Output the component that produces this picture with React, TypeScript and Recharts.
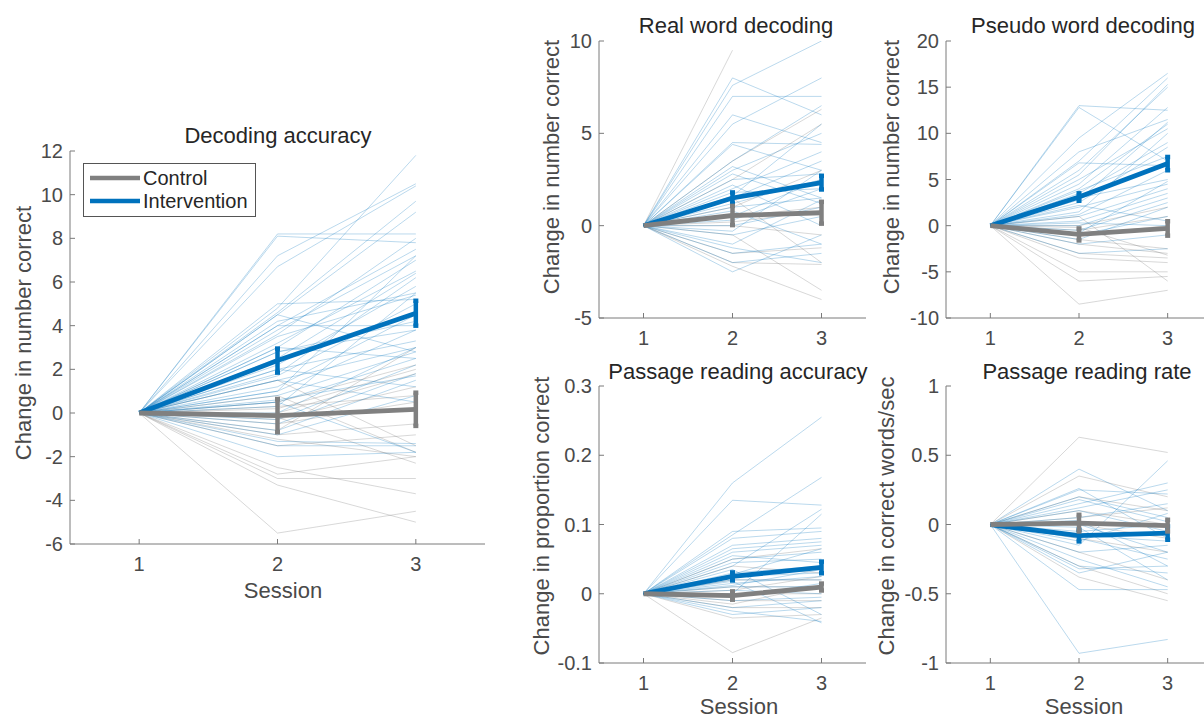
import React from "react";
import { LineChart, Line, XAxis, YAxis, ErrorBar } from "recharts";

type Pair = [number, number | null];

const SESSIONS = [1, 2, 3];
const X_TICKS = [1, 2, 3];

const BLUE = "#0072BD";
const GRAY = "#808080";
const AXIS = "#7a7a7a";
const TEXT = "#4a4a4a";
const FONT = "'Liberation Sans', Arial, Helvetica, sans-serif";

// change from session 1, values at session 2 and 3 (session 1 is always 0)
const decodingBlue: Pair[] = [
  [8.2, 8.2], [8.1, 7.8], [7.2, 10.5], [6.7, 10.4], [4.8, 11.8], [4.6, 9.7], [4.5, 9.2],
  [4.2, 5.5], [4.0, 7.5], [3.8, 7.2], [3.6, 8.0], [3.5, 5.4], [3.2, 6.5], [3.0, 7.0],
  [2.8, 4.2], [2.5, 6.4], [2.2, 5.8], [2.0, 3.3], [1.8, 6.2], [1.7, 5.0], [1.5, 3.0],
  [1.2, 4.5], [1.0, 3.8], [0.8, 2.8], [0.6, 1.7], [0.5, 2.5], [0.3, 5.5], [0.0, 3.0],
  [-0.3, 2.2], [-0.5, 1.8], [-0.8, 1.5], [-1.0, 0.8], [-1.3, -1.4], [-1.5, -1.5],
  [-2.0, -1.8], [2.0, 1.2], [3.0, 2.5], [4.0, 4.0], [1.5, 0.5], [0.5, -1.8], [4.5, 2.8],
  [2.8, 3.8], [5.0, 5.2], [1.0, 7.2],
];
const decodingGray: Pair[] = [
  [0.5, 2.2], [0.2, 2.0], [0.0, 1.8], [-0.3, 1.2], [-0.5, 0.5], [-1.0, -0.5], [-1.5, -1.0],
  [-2.5, -3.7], [-2.8, -2.0], [-3.0, -3.0], [-3.3, -5.0], [-5.5, -4.5], [0.8, -1.8],
  [-0.2, -2.3], [1.5, -1.5], [0.3, 0.8], [-1.2, -2.0], [-0.8, 3.0],
];
const decodingBlueMean = [0, 2.4, 4.57];
const decodingBlueErr = [null, 0.55, 0.57];
const decodingGrayMean = [0, -0.12, 0.17];
const decodingGrayErr = [null, 0.76, 0.76];

const realBlue: Pair[] = [
  [7.6, 10.0], [8.0, 6.0], [7.0, 7.0], [6.0, 4.5], [5.5, 8.0], [4.5, 4.4], [4.4, 3.0],
  [3.5, 6.5], [3.0, 5.0], [2.5, 2.8], [2.0, 4.0], [1.8, 2.0], [1.5, 3.5], [1.0, 1.5],
  [0.5, 2.5], [0.0, 1.0], [-0.5, 0.5], [-1.0, 1.4], [-1.5, -1.0], [-2.0, -1.5],
  [-2.5, -0.5], [2.8, 1.2], [1.2, 2.5], [0.8, -1.0], [-0.3, 3.0], [3.2, 1.5], [2.2, 0.0],
  [-1.2, -2.0], [1.6, 5.5], [0.3, 2.0],
];
const realGray: Pair[] = [
  [9.5, null], [3.5, 6.3], [2.5, 5.5], [1.0, 3.0], [0.5, 1.0], [0.0, -0.5], [-1.5, -1.2],
  [-2.0, -2.1], [-2.2, -4.0], [-0.5, -3.5], [1.5, -2.0], [0.2, 0.8],
];
const realBlueMean = [0, 1.5, 2.33];
const realBlueErr = [null, 0.3, 0.37];
const realGrayMean = [0, 0.55, 0.7];
const realGrayErr = [null, 0.52, 0.59];

const pseudoBlue: Pair[] = [
  [13.0, 12.5], [12.8, 7.0], [9.5, 16.5], [8.0, 11.5], [7.0, 16.0], [6.8, 6.5], [6.0, 15.0],
  [5.0, 10.5], [4.5, 12.8], [4.0, 11.0], [3.5, 9.0], [3.0, 5.0], [2.5, 8.5], [2.0, 4.5],
  [1.5, 10.0], [1.0, 4.0], [0.5, 3.5], [0.0, 3.0], [-0.5, 2.5], [-1.0, 1.0], [-1.5, 2.0],
  [-2.0, -1.0], [-3.0, -2.5], [5.5, 15.3], [3.8, 7.5], [2.2, 0.5], [1.2, 6.0], [0.3, 0.0],
  [-0.8, 4.8], [2.8, 11.2],
];
const pseudoGray: Pair[] = [
  [0.0, 2.0], [-0.5, 1.0], [-1.0, 0.0], [-1.5, -2.5], [-2.0, -3.0], [-3.0, -3.5],
  [-3.5, -4.0], [-5.0, -5.0], [-6.0, -5.5], [-8.5, -7.0], [1.0, -6.0], [-0.2, -3.2],
];
const pseudoBlueMean = [0, 3.1, 6.72];
const pseudoBlueErr = [null, 0.4, 0.72];
const pseudoGrayMean = [0, -0.95, -0.3];
const pseudoGrayErr = [null, 0.65, 0.78];

const accBlue: Pair[] = [
  [0.16, 0.255], [0.135, 0.128], [0.09, 0.095], [0.085, 0.168], [0.08, 0.09], [0.07, 0.08],
  [0.065, 0.075], [0.06, 0.07], [0.05, 0.06], [0.045, 0.05], [0.04, 0.122], [0.03, 0.04],
  [0.025, 0.03], [0.02, 0.02], [0.015, 0.025], [0.01, 0.01], [0.005, 0.0], [0.0, 0.115],
  [-0.01, -0.005], [-0.02, -0.01], [-0.025, -0.04], [-0.03, -0.02], [0.035, -0.03],
  [0.055, 0.045], [0.012, 0.035], [0.028, 0.065], [-0.005, 0.015], [0.018, -0.042],
];
const accGray: Pair[] = [
  [0.05, 0.065], [0.04, 0.03], [0.02, 0.02], [0.01, 0.01], [0.0, 0.0], [-0.01, -0.01],
  [-0.02, -0.02], [-0.035, -0.03], [-0.085, -0.035], [0.005, 0.025], [-0.015, 0.012],
];
const accBlueMean = [0, 0.025, 0.038];
const accBlueErr = [null, 0.0058, 0.0084];
const accGrayMean = [0, -0.0026, 0.0097];
const accGrayErr = [null, 0.006, 0.005];

const rateBlue: Pair[] = [
  [0.4, 0.1], [0.26, -0.1], [0.25, 0.22], [0.2, 0.05], [0.15, 0.3], [0.1, -0.05],
  [0.05, 0.15], [0.0, -0.2], [-0.05, 0.0], [-0.1, -0.25], [-0.15, 0.46], [-0.2, -0.15],
  [-0.3, -0.35], [-0.32, -0.3], [-0.47, -0.47], [-0.93, -0.83], [-0.25, -0.45],
  [0.12, 0.25], [-0.08, -0.12], [0.03, -0.3], [-0.12, 0.08], [-0.35, -0.2], [0.18, 0.02],
  [-0.02, -0.4],
];
const rateGray: Pair[] = [
  [0.63, 0.52], [0.35, 0.2], [0.2, 0.1], [0.1, 0.0], [0.0, -0.1], [-0.1, -0.2],
  [-0.2, -0.4], [-0.3, -0.5], [-0.38, -0.55], [0.05, 0.12],
];
const rateBlueMean = [0, -0.08, -0.062];
const rateBlueErr = [null, 0.042, 0.048];
const rateGrayMean = [0, 0.01, -0.008];
const rateGrayErr = [null, 0.06, 0.042];

function buildRows(
  blue: Pair[], gray: Pair[],
  bm: number[], be: (number | null)[], gm: number[], ge: (number | null)[],
) {
  return SESSIONS.map((s, i) => {
    const row: Record<string, number | null> = { x: s, bm: bm[i], be: be[i], gm: gm[i], ge: ge[i] };
    blue.forEach((p, k) => { row[`b${k}`] = i === 0 ? 0 : p[i - 1]; });
    gray.forEach((p, k) => { row[`g${k}`] = i === 0 ? 0 : p[i - 1]; });
    return row;
  });
}

interface PanelProps {
  x0: number; y0: number; x1: number; y1: number;
  domain: [number, number];
  ticks: number[];
  blue: Pair[]; gray: Pair[];
  bm: number[]; be: (number | null)[]; gm: number[]; ge: (number | null)[];
}

const YW = 60;
const XH = 40;

function Panel({ x0, y0, x1, y1, domain, ticks, blue, gray, bm, be, gm, ge }: PanelProps) {
  const rows = buildRows(blue, gray, bm, be, gm, ge);
  const width = x1 - x0 + YW + 10;
  const height = y1 - y0 + 10 + XH;
  const tickStyle = { fontSize: 20, fill: TEXT, fontFamily: FONT };
  return (
    <div style={{ position: "absolute", left: x0 - YW, top: y0 - 10 }}>
      <LineChart width={width} height={height} data={rows}
        margin={{ top: 10, right: 10, bottom: 0, left: 0 }}>
        <XAxis dataKey="x" type="number" domain={[0.5, 3.5]} ticks={X_TICKS} interval={0}
          height={XH} tickSize={-5} tickMargin={18} tick={tickStyle}
          axisLine={{ stroke: AXIS }} tickLine={{ stroke: AXIS }} />
        <YAxis type="number" domain={domain} ticks={ticks} interval={0} width={YW}
          allowDataOverflow tickSize={-5} tickMargin={12} tick={tickStyle}
          axisLine={{ stroke: AXIS }} tickLine={{ stroke: AXIS }} />
        {gray.map((_, k) => (
          <Line key={`g${k}`} dataKey={`g${k}`} stroke={GRAY} strokeOpacity={0.35}
            strokeWidth={0.9} dot={false} activeDot={false} isAnimationActive={false} />
        ))}
        {blue.map((_, k) => (
          <Line key={`b${k}`} dataKey={`b${k}`} stroke={BLUE} strokeOpacity={0.3}
            strokeWidth={0.9} dot={false} activeDot={false} isAnimationActive={false} />
        ))}
        <Line dataKey="bm" stroke={BLUE} strokeWidth={4.8} dot={false} activeDot={false}
          isAnimationActive={false}>
          <ErrorBar dataKey="be" direction="y" width={2.5} stroke={BLUE} strokeWidth={4.5}
            isAnimationActive={false} />
        </Line>
        <Line dataKey="gm" stroke={GRAY} strokeWidth={4.8} dot={false} activeDot={false}
          isAnimationActive={false}>
          <ErrorBar dataKey="ge" direction="y" width={2.5} stroke={GRAY} strokeWidth={4.5}
            isAnimationActive={false} />
        </Line>
      </LineChart>
    </div>
  );
}

const titles = [
  { text: "Decoding accuracy", x: 278, y: 143 },
  { text: "Real word decoding", x: 736, y: 33 },
  { text: "Pseudo word decoding", x: 1083, y: 33 },
  { text: "Passage reading accuracy", x: 738, y: 379 },
  { text: "Passage reading rate", x: 1087, y: 379 },
];
const yLabels = [
  { text: "Change in number correct", x: 31, y: 333 },
  { text: "Change in number correct", x: 559, y: 167 },
  { text: "Change in number correct", x: 899, y: 167 },
  { text: "Change in proportion correct", x: 549, y: 516 },
  { text: "Change in correct words/sec", x: 894, y: 516 },
];
const xLabels = [
  { text: "Session", x: 283, y: 598 },
  { text: "Session", x: 739, y: 714 },
  { text: "Session", x: 1084, y: 714 },
];
const legendItems = [
  { name: "Control", color: GRAY },
  { name: "Intervention", color: BLUE },
];

export default function App() {
  return (
    <div style={{ position: "absolute", left: 0, top: 0, width: 1204, height: 719,
      background: "#fff", overflow: "hidden", fontFamily: FONT }}>
      <Panel x0={70} y0={151} x1={485} y1={544} domain={[-6, 12]}
        ticks={[-6, -4, -2, 0, 2, 4, 6, 8, 10, 12]}
        blue={decodingBlue} gray={decodingGray} bm={decodingBlueMean} be={decodingBlueErr}
        gm={decodingGrayMean} ge={decodingGrayErr} />
      <Panel x0={599} y0={41} x1={866} y1={318} domain={[-5, 10]} ticks={[-5, 0, 5, 10]}
        blue={realBlue} gray={realGray} bm={realBlueMean} be={realBlueErr}
        gm={realGrayMean} ge={realGrayErr} />
      <Panel x0={946} y0={41} x1={1212} y1={318} domain={[-10, 20]}
        ticks={[-10, -5, 0, 5, 10, 15, 20]}
        blue={pseudoBlue} gray={pseudoGray} bm={pseudoBlueMean} be={pseudoBlueErr}
        gm={pseudoGrayMean} ge={pseudoGrayErr} />
      <Panel x0={599} y0={386} x1={866} y1={663} domain={[-0.1, 0.3]}
        ticks={[-0.1, 0, 0.1, 0.2, 0.3]}
        blue={accBlue} gray={accGray} bm={accBlueMean} be={accBlueErr}
        gm={accGrayMean} ge={accGrayErr} />
      <Panel x0={946} y0={386} x1={1212} y1={663} domain={[-1, 1]}
        ticks={[-1, -0.5, 0, 0.5, 1]}
        blue={rateBlue} gray={rateGray} bm={rateBlueMean} be={rateBlueErr}
        gm={rateGrayMean} ge={rateGrayErr} />

      <svg width={1204} height={719} style={{ position: "absolute", left: 0, top: 0, pointerEvents: "none" }}
        fontFamily={FONT}>
        {titles.map((t) => (
          <text key={t.text} x={t.x} y={t.y} textAnchor="middle" fontSize={22} fill="#262626">{t.text}</text>
        ))}
        {yLabels.map((t, i) => (
          <text key={i} x={t.x} y={t.y} textAnchor="middle" fontSize={22} fill={TEXT}
            transform={`rotate(-90 ${t.x} ${t.y})`}>{t.text}</text>
        ))}
        {xLabels.map((t, i) => (
          <text key={i} x={t.x} y={t.y} textAnchor="middle" fontSize={22} fill={TEXT}>{t.text}</text>
        ))}
        <g>
          <rect x={83.5} y={163.5} width={172} height={53} fill="#fff" stroke="#555" strokeWidth={1} />
          {legendItems.map((it, i) => (
            <g key={it.name}>
              <line x1={90} x2={140} y1={178 + i * 23} y2={178 + i * 23} stroke={it.color} strokeWidth={4.5} />
              <text x={143} y={185 + i * 23} fontSize={20} fill="#262626">{it.name}</text>
            </g>
          ))}
        </g>
      </svg>
    </div>
  );
}
